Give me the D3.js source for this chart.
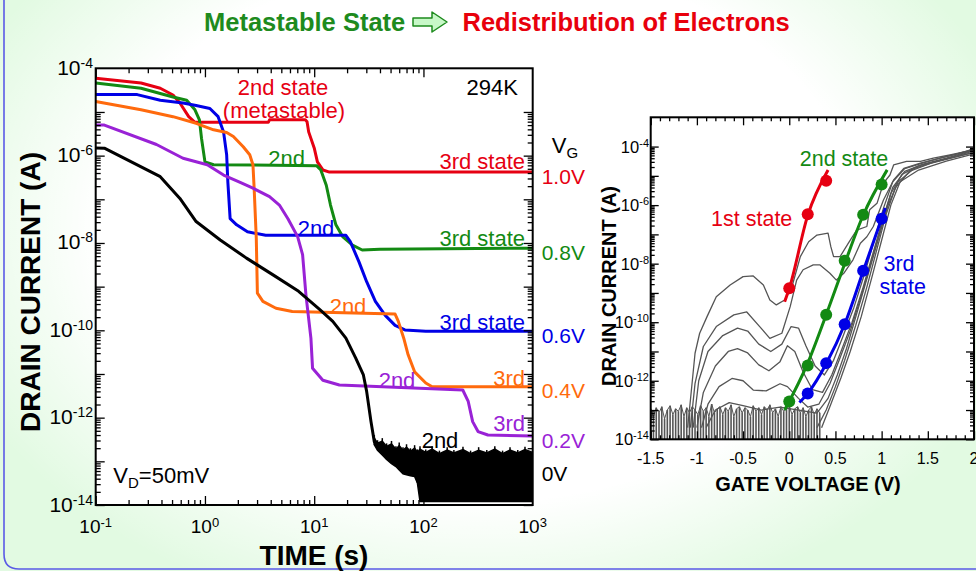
<!DOCTYPE html>
<html>
<head>
<meta charset="utf-8">
<script src="https://cdn.jsdelivr.net/npm/d3@7"></script>
<style>
  body { margin: 0; background: #ffffff; }
  svg { display: block; font-family: "Liberation Sans", Arial, Helvetica, sans-serif; }
</style>
</head>
<body>
<svg id="chart" width="976" height="571"></svg>
<script>
// ---------- Left panel: drain current decay vs time, one trace per gate voltage ----------
// [time (s), drain current (A)]
const decayVg10 = [[0.1,5.9e-5],[0.26,4.6e-5],[0.39,3.5e-5],[0.51,2.45e-5],[0.59,1.6e-5],[0.71,7.8e-6],[0.81,5.8e-6],[3.8,5.8e-6],[3.9,6.6e-6],[8.3,6.6e-6],[8.6,6.0e-6],[8.9,3.5e-6],[10,1.5e-6],[10.7,7.2e-7],[12,4.7e-7],[13.8,4.2e-7],[1000,4.2e-7]];
const decayVg08 = [[0.1,4.6e-5],[0.26,3.5e-5],[0.51,2.2e-5],[0.68,1.86e-5],[0.81,1.12e-5],[0.89,6.6e-6],[0.93,2.5e-6],[1.0,7.2e-7],[1.2,6.2e-7],[10.5,5.9e-7],[11.5,4.7e-7],[12.9,2.1e-7],[14.1,7.4e-8],[15.8,2.6e-8],[18.2,1.4e-8],[22.4,8.9e-9],[27.5,6.9e-9],[40,7.2e-9],[1000,7.6e-9]];
const decayVg06 = [[0.1,2.5e-5],[0.24,2.5e-5],[0.39,1.86e-5],[0.63,1.6e-5],[0.83,1.4e-5],[1.11,1.2e-5],[1.32,7.8e-6],[1.48,3.5e-6],[1.58,1.05e-6],[1.62,2.5e-7],[1.7,3.6e-8],[1.95,2.6e-8],[2.45,1.8e-8],[3.6,1.5e-8],[19.5,1.5e-8],[21.4,1.07e-8],[25.7,3.7e-9],[30.2,1.3e-9],[36.3,4.6e-10],[44.7,2.2e-10],[55,1.3e-10],[67.6,1.02e-10],[105,9.5e-11],[1000,9.5e-11]];
const decayVg04 = [[0.1,1.74e-5],[0.26,1.12e-5],[0.51,7.8e-6],[0.83,5.5e-6],[1.2,3.9e-6],[1.58,3.4e-6],[1.82,2.75e-6],[2.24,1.6e-6],[2.57,1.05e-6],[2.75,6.2e-7],[2.82,1.8e-7],[2.95,1.3e-8],[3.02,7.1e-10],[3.39,4.6e-10],[4.47,3.2e-10],[6.3,2.7e-10],[55,2.35e-10],[58.9,1.6e-10],[66,6.6e-11],[72.4,2.75e-11],[83,1.12e-11],[105,6.2e-12],[120,5.1e-12],[1000,5.1e-12]];
const decayVg02 = [[0.1,5.0e-6],[0.12,5.0e-6],[0.36,1.8e-6],[0.63,8.7e-7],[1.05,6.2e-7],[1.48,3.6e-7],[2.1,2.45e-7],[2.75,1.8e-7],[3.9,1.15e-7],[4.8,7.4e-8],[5.75,3.6e-8],[7.05,1.4e-8],[7.83,5.4e-9],[8.4,6.5e-10],[9.33,6.6e-11],[9.66,1.35e-11],[12,7.2e-12],[17,5.6e-12],[229,4.3e-12],[257,2.35e-12],[282,8.1e-13],[316,4.8e-13],[389,4.0e-13],[1000,3.8e-13]];
const decayVg00 = [[0.1,1.5e-6],[0.12,1.48e-6],[0.39,3.3e-7],[0.59,1.05e-7],[0.83,3.1e-8],[1.38,1.17e-8],[2.4,4.5e-9],[4.2,1.86e-9],[7.2,7.8e-10],[11.2,3.0e-10],[14.8,1.6e-10],[19.5,6.6e-11],[24,2.3e-11],[28.2,9.5e-12],[30.2,4.0e-12],[33.1,8.1e-13],[35.5,2.8e-13]];
// 0 V trace below the measurement floor: [time (s), upper envelope (A), lower envelope (A)]
const decayVg00Noise = [[35.5,3.4e-13,2.4e-13],[38,2.6e-13,1.8e-13],[42,2.9e-13,1.4e-13],[46,2.2e-13,1.1e-13],[51,2.5e-13,8.9e-14],[56,1.9e-13,7.6e-14],[60,2.3e-13,6.3e-14],[65,1.8e-13,5.2e-14],[70,2.1e-13,4.9e-14],[76,1.7e-13,4.7e-14],[83,2.0e-13,4.5e-14],[88,1.6e-13,3.2e-14],[93,1.9e-13,1.2e-14],[105,1.6e-13,1.2e-14],[120,1.9e-13,1.2e-14],[140,1.5e-13,1.2e-14],[165,1.8e-13,1.2e-14],[190,1.55e-13,1.2e-14],[230,1.85e-13,1.2e-14],[270,1.5e-13,1.2e-14],[320,1.8e-13,1.2e-14],[380,1.55e-13,1.2e-14],[450,1.9e-13,1.2e-14],[530,1.5e-13,1.2e-14],[620,1.8e-13,1.2e-14],[730,1.55e-13,1.2e-14],[850,1.85e-13,1.2e-14],[1000,1.6e-13,1.2e-14]];

const gateVoltageLabels = ["1.0V", "0.8V", "0.6V", "0.4V", "0.2V", "0V"];
const traceColors = ["#e60012", "#138a13", "#0000e6", "#ff6a0d", "#9922d6", "#000000"];
const timeTickExponents = ["-1", "0", "1", "2", "3"];
const currentTickExponents = ["-4", "-6", "-8", "-10", "-12", "-14"];

// ---------- Right panel: transfer curves, gray = repeated sweeps ----------
// [gate voltage (V), drain current (A)]
const sweepA = [[-1.10,2.5e-14],[-1.07,2.2e-13],[-1.02,8.7e-12],[-0.97,4.2e-11],[-0.89,1.55e-10],[-0.79,7.4e-10],[-0.64,1.86e-9],[-0.50,3.6e-9],[-0.39,3.8e-9],[-0.28,1.86e-9],[-0.21,5.75e-10],[-0.14,3.9e-10],[-0.05,5.75e-10],[0.03,1.66e-9],[0.12,1.74e-8],[0.21,5.6e-8],[0.30,9.5e-8],[0.42,1.1e-7],[0.45,3.8e-8],[0.48,1.74e-8],[0.55,1.74e-8],[0.64,5.0e-8],[0.73,1.41e-7],[0.84,1.86e-7],[0.87,6.9e-7],[0.95,1.15e-6],[1.02,5.6e-6],[1.09,1.07e-5],[1.13,2.35e-5],[1.27,3.1e-5],[1.42,3.1e-5],[1.56,4.0e-5],[1.74,5.2e-5],[1.92,6.8e-5],[2.0,8.7e-5]];
const sweepB = [[-1.07,2.5e-14],[-1.02,8.1e-13],[-0.93,1.48e-11],[-0.79,7.1e-11],[-0.60,1.78e-10],[-0.46,2.24e-10],[-0.32,7.1e-11],[-0.21,2.8e-11],[-0.08,4.2e-11],[0.01,3.4e-10],[0.08,2.75e-9],[0.15,6.2e-9],[0.26,9.1e-9],[0.33,9.1e-9],[0.44,4.7e-9],[0.51,2.75e-9],[0.59,4.7e-9],[0.69,1.35e-8],[0.77,5.0e-8],[0.84,8.3e-8],[0.91,1.86e-7],[1.02,1.5e-6],[1.13,7.2e-6],[1.24,1.8e-5],[1.42,2.7e-5],[1.6,3.8e-5],[1.8,5.4e-5],[2.0,8.3e-5]];
const sweepC = [[-1.04,2.5e-14],[-0.98,1.0e-12],[-0.88,1.0e-11],[-0.72,3.5e-11],[-0.56,6.3e-11],[-0.45,5.0e-11],[-0.33,1.78e-11],[-0.2,1.0e-11],[-0.08,1.78e-11],[0.02,7.1e-11],[0.1,6.3e-11],[0.18,1.58e-11],[0.28,3.2e-12],[0.38,1.58e-12],[0.48,5.0e-12],[0.58,3.2e-11],[0.7,3.2e-10],[0.82,5.0e-9],[0.92,6.3e-8],[1.02,7.9e-7],[1.12,6.3e-6],[1.25,1.78e-5],[1.45,2.8e-5],[1.65,4.2e-5],[1.85,6.0e-5],[2.0,7.9e-5]];
const sweepD = [[-1.0,2.5e-14],[-0.93,4.0e-13],[-0.8,3.2e-12],[-0.66,1.0e-11],[-0.56,1.26e-11],[-0.45,8.9e-12],[-0.33,3.5e-12],[-0.22,2.2e-12],[-0.1,4.5e-12],[-0.02,1.58e-11],[0.06,1.0e-11],[0.15,2.0e-12],[0.25,5.0e-13],[0.36,4.0e-13],[0.46,1.58e-12],[0.56,1.0e-11],[0.68,1.0e-10],[0.8,1.58e-9],[0.92,3.2e-8],[1.02,4.0e-7],[1.12,4.0e-6],[1.25,1.41e-5],[1.45,2.5e-5],[1.7,4.0e-5],[2.0,7.6e-5]];
const sweepE = [[-0.95,2.5e-14],[-0.88,1.58e-13],[-0.76,6.3e-13],[-0.62,1.2e-12],[-0.5,1.0e-12],[-0.39,4.8e-13],[-0.25,4.5e-13],[-0.1,7.9e-13],[-0.02,6.3e-13],[0.1,2.5e-13],[0.2,1.26e-13],[0.32,1.58e-13],[0.44,7.9e-13],[0.54,5.0e-12],[0.66,5.0e-11],[0.78,7.9e-10],[0.9,1.58e-8],[1.0,2.0e-7],[1.1,2.5e-6],[1.22,1.12e-5],[1.4,2.2e-5],[1.7,3.8e-5],[2.0,7.1e-5]];
const sweepF = [[-0.9,2.5e-14],[-0.8,1.0e-13],[-0.65,1.78e-13],[-0.5,1.41e-13],[-0.3,1.0e-13],[-0.1,1.26e-13],[0.1,1.0e-13],[0.3,7.9e-14],[0.42,2.5e-13],[0.52,1.58e-12],[0.62,1.26e-11],[0.74,2.5e-10],[0.86,5.0e-9],[0.97,7.9e-8],[1.07,1.0e-6],[1.18,6.3e-6],[1.35,1.78e-5],[1.6,3.2e-5],[2.0,6.3e-5]];
const sweepG = [[0.3,2.5e-14],[0.4,1.0e-13],[0.5,6.3e-13],[0.6,5.0e-12],[0.72,7.9e-11],[0.84,1.58e-9],[0.95,3.2e-8],[1.05,5.0e-7],[1.15,4.0e-6],[1.3,1.41e-5],[1.55,2.8e-5],[2.0,6.3e-5]];
const sweepH = [[0.35,2.5e-14],[0.45,1.58e-13],[0.56,1.26e-12],[0.66,1.0e-11],[0.78,1.58e-10],[0.9,4.0e-9],[1.0,6.3e-8],[1.1,1.0e-6],[1.2,6.3e-6],[1.4,1.58e-5],[1.7,3.2e-5],[2.0,5.6e-5]];
// noise floor of the sweeps: [gate voltage (V), peak current (A)]
const sweepNoise = [[-1.50,1.1e-13],[-1.47,6e-14],[-1.44,1.2e-13],[-1.41,8e-14],[-1.38,1.3e-13],[-1.35,5e-14],[-1.32,1.0e-13],[-1.29,1.4e-13],[-1.26,7e-14],[-1.23,1.1e-13],[-1.20,9e-14],[-1.17,1.5e-13],[-1.14,6e-14],[-1.11,1.2e-13],[-1.08,8e-14],[-1.05,1.3e-13],[-1.02,1.0e-13],[-0.99,7e-14],[-0.96,1.4e-13],[-0.93,9e-14],[-0.90,1.2e-13],[-0.87,6e-14],[-0.84,1.6e-13],[-0.81,8e-14],[-0.78,1.1e-13],[-0.75,1.3e-13],[-0.72,7e-14],[-0.69,1.2e-13],[-0.66,9e-14],[-0.63,1.5e-13],[-0.60,6e-14],[-0.57,1.1e-13],[-0.54,1.3e-13],[-0.51,8e-14],[-0.48,1.2e-13],[-0.45,1.0e-13],[-0.42,6e-14],[-0.39,1.4e-13],[-0.36,9e-14],[-0.33,1.2e-13],[-0.30,7e-14],[-0.27,1.3e-13],[-0.24,1.0e-13],[-0.21,1.5e-13],[-0.18,8e-14],[-0.15,1.1e-13],[-0.12,6e-14],[-0.09,1.3e-13],[-0.06,9e-14],[-0.03,1.2e-13],[0.00,1.4e-13],[0.03,7e-14],[0.06,1.1e-13],[0.09,1.3e-13],[0.12,8e-14],[0.15,1.2e-13],[0.18,6e-14],[0.21,1.0e-13],[0.24,1.3e-13],[0.27,7e-14],[0.30,1.1e-13],[0.33,8e-14]];

// state fits (lines) and extracted points (dots)
const state1Fit = [[-0.05,5.0e-10],[0.0,1.41e-9],[0.2,4.47e-7],[0.42,1.58e-5]];
const state1Points = [[0.0,1.45e-9],[0.2,4.9e-7],[0.4,6.8e-6]];
const state2Fit = [[-0.05,1.0e-13],[0.2,4.0e-12],[0.4,1.8e-10],[0.6,1.0e-8],[0.8,4.5e-7],[1.06,1.6e-5]];
const state2Points = [[0.0,1.95e-13],[0.2,3.3e-12],[0.4,1.8e-10],[0.6,1.26e-8],[0.8,4.7e-7],[1.0,5.1e-6]];
const state3Fit = [[0.11,1.8e-13],[0.2,3.7e-13],[0.4,3.8e-12],[0.6,8.5e-11],[0.8,5.5e-9],[1.04,8.0e-7]];
const state3Points = [[0.2,3.7e-13],[0.4,4.0e-12],[0.6,8.5e-11],[0.8,5.75e-9],[1.0,3.4e-7]];
const gateTickLabels = ["-1.5", "-1", "-0.5", "0", "0.5", "1", "1.5", "2"];
const sweepCurrentTickExponents = ["-4", "-6", "-8", "-10", "-12", "-14"];

// ---------------------------------------------------------------
const svg = d3.select("#chart");
const defs = svg.append("defs");

// page background: pale green with a white glow in the middle
const glow = defs.append("radialGradient").attr("id", "glow")
  .attr("gradientUnits", "userSpaceOnUse")
  .attr("cx", 480).attr("cy", 230).attr("r", 560)
  .attr("gradientTransform", "translate(480,230) scale(1,0.714) translate(-480,-230)");
glow.append("stop").attr("offset", 0).attr("stop-color", "#fff").attr("stop-opacity", 1);
glow.append("stop").attr("offset", 0.68).attr("stop-color", "#fff").attr("stop-opacity", 1);
glow.append("stop").attr("offset", 1).attr("stop-color", "#fff").attr("stop-opacity", 0);
svg.append("rect").attr("width", 976).attr("height", 571).attr("fill", "#e2fae2");
svg.append("rect").attr("width", 976).attr("height", 571).attr("fill", "url(#glow)");
svg.append("path").attr("d", "M4,0 L4,554 Q4,569 19,569 L976,569")
  .attr("fill", "none").attr("stroke", "#5a5ae6").attr("stroke-width", 1.6);

// title
const title = svg.append("g").attr("font-weight", "bold").style("font-size", "25.5px");
title.append("text").attr("x", 204).attr("y", 31).attr("fill", "#1e8b1e").text("Metastable State");
title.append("path").attr("d", "M413,18 L432,18 L432,12 L447,22 L432,32 L432,26 L413,26 Z")
  .attr("fill", "#c8f8c8").attr("stroke", "#1e8b1e").attr("stroke-width", 1.5).attr("stroke-linejoin", "round");
title.append("text").attr("x", 462.5).attr("y", 31).attr("fill", "#e8000c").text("Redistribution of Electrons");

// helpers
const isDecade = v => Math.abs(Math.log10(v) - Math.round(Math.log10(v))) < 1e-9;
function logTickValues(lo, hi) {
  const out = [];
  for (let e = lo; e < hi; e++) for (let m = 1; m < 10; m++) out.push(+(m + "e" + e));
  out.push(+("1e" + hi));
  return out;
}
function powerLabel(g, x, y, exp, size, supSize, anchor, supDy) {
  const t = g.append("text").attr("x", x).attr("y", y).attr("text-anchor", anchor)
    .style("font-size", size + "px");
  t.append("tspan").text("10");
  t.append("tspan").attr("dy", supDy).style("font-size", supSize + "px").text(exp);
  return t;
}
function frameAxes(g, xs, ys, xTicks, yTicks, xMajor, yMajor, majorLen, minorLen) {
  const [x0, x1] = xs.range(), [y0, y1] = ys.range();
  const styleAxis = sel => {
    sel.select(".domain").remove();
    sel.selectAll(".tick line").attr("stroke", "#000").attr("stroke-width", 1.3);
  };
  g.append("g").attr("transform", `translate(0,${y0})`)
    .call(d3.axisTop(xs).tickValues(xTicks).tickFormat("").tickSizeOuter(0)).call(styleAxis)
    .selectAll(".tick line").attr("y2", d => xMajor(d) ? -majorLen : -minorLen);
  g.append("g").attr("transform", `translate(0,${y1})`)
    .call(d3.axisBottom(xs).tickValues(xTicks).tickFormat("").tickSizeOuter(0)).call(styleAxis)
    .selectAll(".tick line").attr("y2", d => xMajor(d) ? majorLen : minorLen);
  g.append("g").attr("transform", `translate(${x0},0)`)
    .call(d3.axisRight(ys).tickValues(yTicks).tickFormat("").tickSizeOuter(0)).call(styleAxis)
    .selectAll(".tick line").attr("x2", d => yMajor(d) ? majorLen : minorLen);
  g.append("g").attr("transform", `translate(${x1},0)`)
    .call(d3.axisLeft(ys).tickValues(yTicks).tickFormat("").tickSizeOuter(0)).call(styleAxis)
    .selectAll(".tick line").attr("x2", d => yMajor(d) ? -majorLen : -minorLen);
  g.append("rect").attr("x", x0).attr("y", y1).attr("width", x1 - x0).attr("height", y0 - y1)
    .attr("fill", "none").attr("stroke", "#000").attr("stroke-width", 2);
}

// =============== LEFT PANEL ===============
const xT = d3.scaleLog().domain([0.1, 1000]).range([95.7, 532.7]);
const yI = d3.scaleLog().domain([1e-14, 1e-4]).range([505, 68.3]);
const left = svg.append("g");
left.append("rect").attr("x", 95.7).attr("y", 68.3).attr("width", 437).attr("height", 436.7).attr("fill", "#fff");
defs.append("clipPath").attr("id", "clipLeft").append("rect")
  .attr("x", 95.7).attr("y", 68.3).attr("width", 437).attr("height", 436.7);

const plotL = left.append("g").attr("clip-path", "url(#clipLeft)");
const lineL = d3.line().x(d => xT(d[0])).y(d => yI(d[1]));
const decaySeries = [decayVg10, decayVg08, decayVg06, decayVg04, decayVg02, decayVg00];
decaySeries.forEach((s, i) => {
  plotL.append("path").datum(s).attr("d", lineL).attr("fill", "none")
    .attr("stroke", traceColors[i]).attr("stroke-width", 3)
    .attr("stroke-linejoin", "round").attr("stroke-linecap", "round");
});
// noisy floor of the 0 V trace: filled band plus a ragged spiky top edge
plotL.append("path").datum(decayVg00Noise)
  .attr("d", d3.area().x(d => xT(d[0])).y0(d => yI(d[2])).y1(d => yI(d[1])))
  .attr("fill", "#000").attr("stroke", "#000").attr("stroke-width", 1.5);
plotL.append("g").selectAll("line").data(decayVg00Noise).join("line")
  .attr("x1", d => xT(d[0])).attr("x2", d => xT(d[0]))
  .attr("y1", d => yI(d[1]) - 3).attr("y2", d => yI(d[2]))
  .attr("stroke", "#000").attr("stroke-width", 1.5);

frameAxes(left, xT, yI, logTickValues(-1, 2), logTickValues(-14, -5), isDecade, isDecade, 9, 5);

const lt = left.append("g").attr("fill", "#000");
currentTickExponents.forEach(e => powerLabel(lt, 93, yI(+("1e" + e)) + 6.5, e, 21, 14, "end", -7));
timeTickExponents.forEach(e => powerLabel(lt, xT(+("1e" + e)), 533, e, 19, 13, "middle", -6));

left.append("text").attr("transform", "translate(40,292) rotate(-90)").attr("text-anchor", "middle")
  .attr("font-weight", "bold").style("font-size", "28px").text("DRAIN CURRENT (A)");
left.append("text").attr("x", 314).attr("y", 565).attr("text-anchor", "middle")
  .attr("font-weight", "bold").style("font-size", "28px").text("TIME (s)");

// annotations on the traces
const ann = left.append("g").style("font-size", "22px");
const note = (x, y, txt, color, anchor) =>
  ann.append("text").attr("x", x).attr("y", y + 7.8).attr("text-anchor", anchor).attr("fill", color).text(txt);
note(283, 86.7, "2nd state", traceColors[0], "middle");
note(284, 110, "(metastable)", traceColors[0], "middle");
note(525, 161, "3rd state", traceColors[0], "end");
note(286.7, 158.3, "2nd", traceColors[1], "middle");
note(525, 237.7, "3rd state", traceColors[1], "end");
note(316, 227.7, "2nd", traceColors[2], "middle");
note(525, 321.7, "3rd state", traceColors[2], "end");
note(348, 305.7, "2nd", traceColors[3], "middle");
note(525, 377.7, "3rd", traceColors[3], "end");
note(397, 380, "2nd", traceColors[4], "middle");
note(525, 423.3, "3rd", traceColors[4], "end");
note(440, 440, "2nd", traceColors[5], "middle");
note(518, 87, "294K", "#000", "end");

const vd = ann.append("text").attr("x", 113.3).attr("y", 482.5).attr("fill", "#000");
vd.append("tspan").text("V");
vd.append("tspan").attr("dy", 5).style("font-size", "15px").text("D");
vd.append("tspan").attr("dy", -5).text("=50mV");

// gate-voltage legend at the end of each trace
const vg = left.append("text").attr("x", 551.7).attr("y", 153).style("font-size", "22px").attr("fill", "#000");
vg.append("tspan").text("V");
vg.append("tspan").attr("dy", 5).style("font-size", "15px").text("G");
const lastNoise = decayVg00Noise[decayVg00Noise.length - 1];
const endLevels = decaySeries.map((s, i) => i < 5 ? yI(s[s.length - 1][1]) + 4
  : yI(Math.sqrt(lastNoise[1] * lastNoise[2])) - 3);
gateVoltageLabels.forEach((lab, i) => {
  left.append("text").attr("x", 541.7).attr("y", endLevels[i] + 7.5).style("font-size", "21px")
    .attr("fill", traceColors[i]).text(lab);
});

// =============== RIGHT PANEL ===============
const xV = d3.scaleLinear().domain([-1.5, 2]).range([650.7, 974]);
const yR = d3.scaleLog().domain([1e-14, 1e-3]).range([439.3, 117.3]);
const right = svg.append("g");
right.append("rect").attr("x", 650.7).attr("y", 117.3).attr("width", 323.3).attr("height", 322).attr("fill", "#fff");
defs.append("clipPath").attr("id", "clipRight").append("rect")
  .attr("x", 650.7).attr("y", 117.3).attr("width", 323.3).attr("height", 322);
const plotR = right.append("g").attr("clip-path", "url(#clipRight)");

// measurement floor: vertical noise spikes joined along their peaks
plotR.append("g").selectAll("line").data(sweepNoise).join("line")
  .attr("x1", d => xV(d[0])).attr("x2", d => xV(d[0]))
  .attr("y1", d => yR(d[1])).attr("y2", yR(1e-14))
  .attr("stroke", "#555").attr("stroke-width", 1.6);
plotR.append("path").datum(sweepNoise)
  .attr("d", d3.line().x(d => xV(d[0])).y(d => yR(d[1])))
  .attr("fill", "none").attr("stroke", "#555").attr("stroke-width", 1);

const lineR = d3.line().x(d => xV(d[0])).y(d => yR(d[1]));
[sweepA, sweepB, sweepC, sweepD, sweepE, sweepF, sweepG, sweepH].forEach(s => {
  plotR.append("path").datum(s).attr("d", lineR).attr("fill", "none")
    .attr("stroke", "#555").attr("stroke-width", 1.3).attr("stroke-linejoin", "round");
});

const fitLine = d3.line().x(d => xV(d[0])).y(d => yR(d[1])).curve(d3.curveMonotoneX);
const states = [
  { fit: state1Fit, pts: state1Points, color: "#e60012" },
  { fit: state2Fit, pts: state2Points, color: "#138a13" },
  { fit: state3Fit, pts: state3Points, color: "#0000e6" }
];
states.forEach(st => {
  plotR.append("path").datum(st.fit).attr("d", fitLine).attr("fill", "none")
    .attr("stroke", st.color).attr("stroke-width", 3);
  plotR.append("g").selectAll("circle").data(st.pts).join("circle")
    .attr("cx", d => xV(d[0])).attr("cy", d => yR(d[1])).attr("r", 6).attr("fill", st.color);
});

const gateTicks = d3.range(-15, 21).map(k => k / 10);
frameAxes(right, xV, yR, gateTicks, logTickValues(-14, -4),
  d => Math.abs(d * 2 - Math.round(d * 2)) < 1e-9, isDecade, 8, 4);

const rt = right.append("g").attr("fill", "#000");
sweepCurrentTickExponents.forEach(e => powerLabel(rt, 649, yR(+("1e" + e)) + 6, e, 16.5, 11, "end", -6));
gateTickLabels.forEach(l => rt.append("text").attr("x", xV(+l)).attr("y", 464)
  .attr("text-anchor", "middle").style("font-size", "16px").text(l));

right.append("text").attr("transform", "translate(616,286) rotate(-90)").attr("text-anchor", "middle")
  .attr("font-weight", "bold").style("font-size", "20px").text("DRAIN CURRENT (A)");
right.append("text").attr("x", 808).attr("y", 491).attr("text-anchor", "middle")
  .attr("font-weight", "bold").style("font-size", "20px").text("GATE VOLTAGE (V)");

const rann = right.append("g").style("font-size", "21.5px").attr("text-anchor", "middle");
rann.append("text").attr("x", 751.7).attr("y", 226).attr("fill", "#e60012").text("1st state");
rann.append("text").attr("x", 844).attr("y", 165.7).attr("fill", "#138a13").text("2nd state");
rann.append("text").attr("x", 899).attr("y", 270.7).attr("fill", "#0000e6").text("3rd");
rann.append("text").attr("x", 902.7).attr("y", 294.4).attr("fill", "#0000e6").text("state");
</script>
</body>
</html>
